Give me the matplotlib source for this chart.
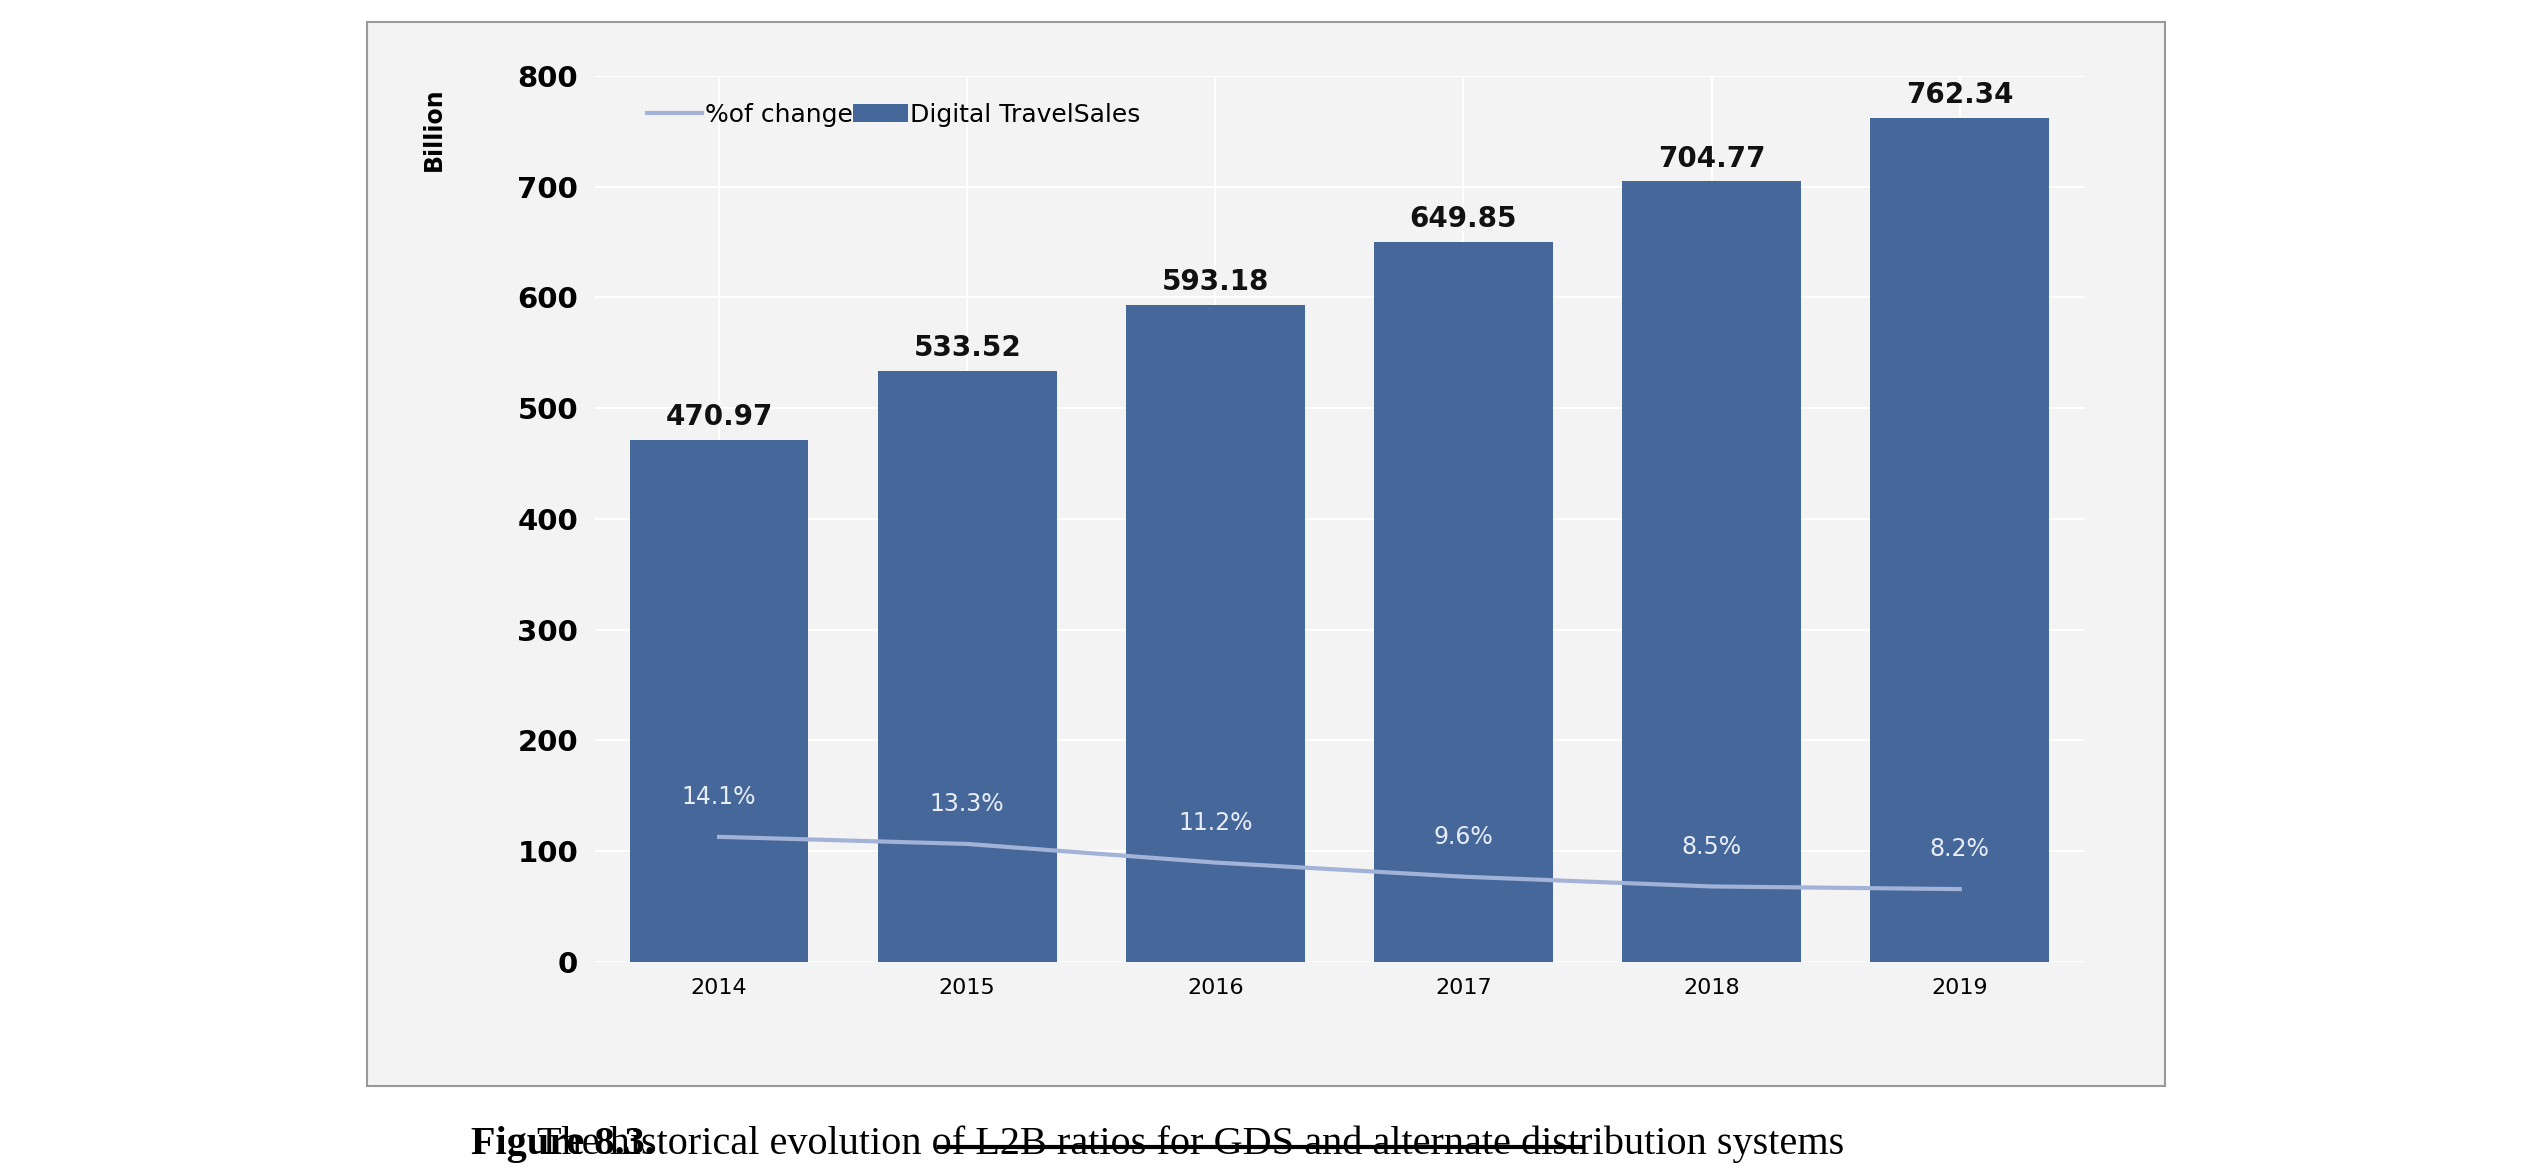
import matplotlib
matplotlib.use("Agg")
import matplotlib.pyplot as plt
import numpy as np

years = ["2014", "2015", "2016", "2017", "2018", "2019"]
sales = [470.97, 533.52, 593.18, 649.85, 704.77, 762.34]
pct_change = [14.1, 13.3, 11.2, 9.6, 8.5, 8.2]
pct_scale = 8.0  # percent line drawn on the billion axis

bar_color = "#46679a"
line_color = "#a3b3d8"

fig = plt.figure(figsize=(25.32, 11.7), dpi=100)
fig.patch.set_facecolor("white")

# grey panel behind the chart
panel = plt.Rectangle((0.145, 0.072), 0.71, 0.909, transform=fig.transFigure,
                      facecolor="#f3f3f3", edgecolor="#999999", lw=1.5, zorder=-10)
fig.patches.append(panel)

ax = fig.add_axes([0.235, 0.178, 0.588, 0.757])
ax.set_facecolor("#f3f3f3")
x = np.arange(len(years))
ax.bar(x, sales, width=0.72, color=bar_color, label="Digital TravelSales", zorder=2)
pct_y = [p * pct_scale for p in pct_change]
ax.plot(x, pct_y, color=line_color, lw=3, label="%of change", zorder=3)

for xi, v in zip(x, sales):
    ax.text(xi, v + 8, f"{v:.2f}", ha="center", va="bottom", fontsize=20,
            fontweight="bold", color="#111111")
for xi, p, yy in zip(x, pct_change, pct_y):
    ax.text(xi, yy + 25, f"{p}%", ha="center", va="bottom", fontsize=17,
            color="#e8ecf5", zorder=4)

ax.set_ylim(0, 800)
ax.set_xlim(-0.5, 5.5)
ax.set_yticks(range(0, 801, 100))
ax.set_xticks(x)
ax.set_xticklabels(years, fontsize=16, fontfamily="Liberation Sans Narrow")
for t in ax.get_yticklabels():
    t.set_fontsize(21)
    t.set_fontweight("bold")
ax.grid(True, color="white", lw=1.5, zorder=0)
ax.set_axisbelow(True)
for s in ax.spines.values():
    s.set_visible(False)
ax.tick_params(length=0, pad=12)
ax.set_ylabel("Billion", fontsize=17, fontweight="bold", rotation=90)
ax.yaxis.set_label_coords(-0.1, 0.94)

ax.legend(loc="upper left", bbox_to_anchor=(0.02, 0.995), ncol=2, frameon=False,
          fontsize=18, handlelength=2.2, columnspacing=0.0, handletextpad=0.1)

fig.text(0.186, 0.022, "Figure 8.3.", ha="left", va="center", fontsize=29,
         fontweight="bold", fontfamily="Liberation Serif")
fig.text(0.212, 0.022, "The historical evolution of L2B ratios for GDS and alternate distribution systems",
         ha="left", va="center", fontsize=29, fontfamily="Liberation Serif")
fig.add_artist(plt.Line2D([0.371, 0.625], [0.020, 0.020], transform=fig.transFigure,
                          color="black", lw=3))

fig.savefig("out.png", dpi=100)
